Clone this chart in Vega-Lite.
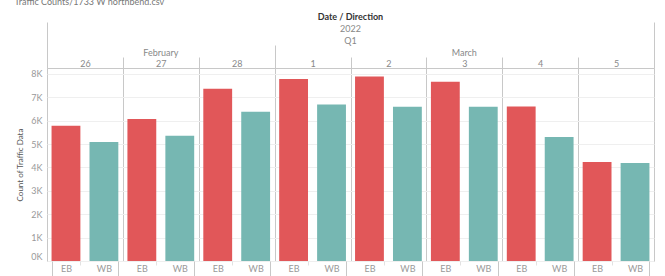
{
  "$schema": "https://vega.github.io/schema/vega-lite/v6.json",
  "width": 607,
  "height": 193,
  "autosize": {"type": "none"},
  "padding": {"left": 47, "top": 68, "right": 11, "bottom": 15},
  "background": "white",
  "config": {
    "font": "Lato",
    "view": {"stroke": "#c8c8c8", "strokeWidth": 1}
  },
  "title": {
    "text": "Date / Direction",
    "subtitle": ["2022", "Q1"],
    "fontSize": 9,
    "fontWeight": "bold",
    "color": "#333333",
    "subtitleFontSize": 9,
    "subtitleColor": "#888888",
    "subtitleLineHeight": 12,
    "subtitlePadding": 3,
    "anchor": "middle",
    "frame": "group",
    "offset": -49
  },
  "data": {
    "values": [
      {"key": "26 EB", "day": "26", "month": "February", "direction": "EB", "count": 5780},
      {"key": "26 WB", "day": "26", "month": "February", "direction": "WB", "count": 5090},
      {"key": "27 EB", "day": "27", "month": "February", "direction": "EB", "count": 6075},
      {"key": "27 WB", "day": "27", "month": "February", "direction": "WB", "count": 5350},
      {"key": "28 EB", "day": "28", "month": "February", "direction": "EB", "count": 7360},
      {"key": "28 WB", "day": "28", "month": "February", "direction": "WB", "count": 6375},
      {"key": "1 EB", "day": "1", "month": "March", "direction": "EB", "count": 7785},
      {"key": "1 WB", "day": "1", "month": "March", "direction": "WB", "count": 6685},
      {"key": "2 EB", "day": "2", "month": "March", "direction": "EB", "count": 7885},
      {"key": "2 WB", "day": "2", "month": "March", "direction": "WB", "count": 6590},
      {"key": "3 EB", "day": "3", "month": "March", "direction": "EB", "count": 7660},
      {"key": "3 WB", "day": "3", "month": "March", "direction": "WB", "count": 6590},
      {"key": "4 EB", "day": "4", "month": "March", "direction": "EB", "count": 6600},
      {"key": "4 WB", "day": "4", "month": "March", "direction": "WB", "count": 5305},
      {"key": "5 EB", "day": "5", "month": "March", "direction": "EB", "count": 4235},
      {"key": "5 WB", "day": "5", "month": "March", "direction": "WB", "count": 4190}
    ]
  },
  "layer": [
    {
      "mark": {"type": "bar"},
      "encoding": {
        "x": {
          "field": "key",
          "type": "nominal",
          "scale": {
            "domain": ["26 EB", "26 WB", "27 EB", "27 WB", "28 EB", "28 WB", "1 EB", "1 WB", "2 EB", "2 WB", "3 EB", "3 WB", "4 EB", "4 WB", "5 EB", "5 WB"],
            "paddingInner": 0.24,
            "paddingOuter": 0.12
          },
          "axis": {
            "orient": "bottom",
            "title": null,
            "labelExpr": "split(datum.value, ' ')[1]",
            "labelAngle": 0,
            "labelColor": "#999999",
            "labelFontSize": 9,
            "labelPadding": {"condition": {"test": "!datum.value || indexof(datum.value, 'WB') >= 0", "value": -12}, "value": -1},
            "domain": false,
            "tickBand": "extent",
            "tickColor": {"condition": {"test": "!datum.value || indexof(datum.value, 'WB') >= 0", "value": "#c8c8c8"}, "value": "#e2e2e2"},
            "tickSize": {"condition": {"test": "!datum.value || indexof(datum.value, 'WB') >= 0", "value": 15}, "value": 4}
          }
        },
        "y": {
          "field": "count",
          "type": "quantitative",
          "scale": {"domain": [0, 8250], "nice": false},
          "axis": {
            "title": "Count of Traffic Data",
            "values": [0, 1000, 2000, 3000, 4000, 5000, 6000, 7000, 8000],
            "labelExpr": "datum.value / 1000 + 'K'",
            "labelFlush": true,
            "ticks": false,
            "domain": false,
            "gridColor": "#efefef",
            "labelColor": "#999999",
            "labelFontSize": 9,
            "labelPadding": 5,
            "titleFontSize": 8,
            "titleFontWeight": "normal",
            "titleColor": "#555555",
            "titlePadding": 6
          }
        },
        "color": {
          "field": "direction",
          "type": "nominal",
          "scale": {"domain": ["EB", "WB"], "range": ["#e15759", "#76b7b2"]},
          "legend": null
        }
      }
    },
    {
      "mark": {"type": "tick", "opacity": 0},
      "encoding": {
        "x": {
          "field": "day",
          "type": "ordinal",
          "scale": {"domain": ["26", "27", "28", "1", "2", "3", "4", "5"], "paddingInner": 0, "paddingOuter": 0},
          "axis": {
            "orient": "top",
            "title": "Traffic Counts/1733 W northbend.csv",
            "titleX": -33,
            "titleY": -64,
            "titleAnchor": "start",
            "titleAlign": "left",
            "titleBaseline": "alphabetic",
            "titleFontSize": 9,
            "titleFontWeight": "normal",
            "titleColor": "#777777",
            "tickBand": "extent",
            "grid": true,
            "gridColor": "#c8c8c8",
            "domain": false,
            "labelAngle": 0,
            "labelColor": "#888888",
            "labelFontSize": 9,
            "labelPadding": {
              "condition": [
                {"test": "!datum.value || datum.value == '5'", "value": -46},
                {"test": "datum.value == '28'", "value": -23}
              ],
              "value": -11
            },
            "tickColor": "#c8c8c8",
            "tickSize": {
              "condition": [
                {"test": "!datum.value || datum.value == '5'", "value": 46},
                {"test": "datum.value == '28'", "value": 23}
              ],
              "value": 11
            }
          }
        }
      }
    },
    {
      "mark": {"type": "tick", "opacity": 0},
      "encoding": {
        "x": {
          "field": "day",
          "type": "ordinal",
          "scale": {"domain": ["26", "27", "28", "1", "2", "3", "4", "5"], "paddingInner": 0, "paddingOuter": 0},
          "axis": {
            "orient": "top",
            "title": null,
            "labelExpr": "datum.value == '27' ? 'February' : (datum.value == '3' ? 'March' : '')",
            "labelOverlap": false,
            "labelAngle": 0,
            "labelColor": "#888888",
            "labelFontSize": 9,
            "labelPadding": 11,
            "ticks": false,
            "domain": false,
            "grid": false
          }
        }
      }
    }
  ],
  "resolve": {"scale": {"x": "independent"}, "axis": {"x": "independent"}}
}
